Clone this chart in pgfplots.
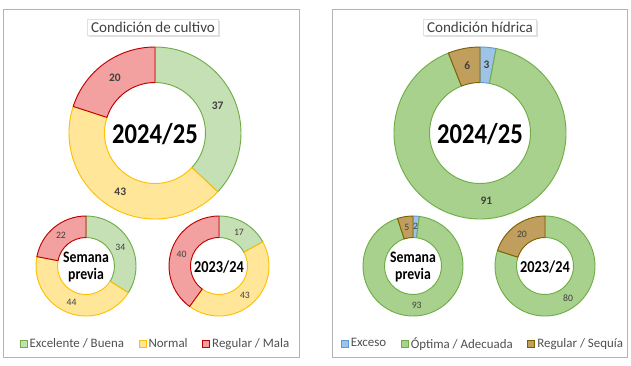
\documentclass[border=0pt]{standalone}
\usepackage{pgfplots}
\pgfplotsset{compat=1.18}
\usepackage{pgfplotstable}
\usepackage{fontspec}
\setmainfont{Carlito}
\newfontfamily\condfont[FakeStretch=0.86]{Carlito}
\usetikzlibrary{shadows}

\definecolor{gA}{HTML}{C5E0B4}\definecolor{gAd}{HTML}{70AD47}
\definecolor{yA}{HTML}{FFE699}\definecolor{yAd}{HTML}{FFC000}
\definecolor{rA}{HTML}{F2A0A0}\definecolor{rAd}{HTML}{C00000}
\definecolor{gB}{HTML}{A9D18E}\definecolor{gBd}{HTML}{70AD47}
\definecolor{bB}{HTML}{9DC3E6}\definecolor{bBd}{HTML}{5B9BD5}
\definecolor{nB}{HTML}{C09E5E}\definecolor{nBd}{HTML}{7F6000}
\definecolor{lab}{HTML}{404040}
\definecolor{leg}{HTML}{505050}
\definecolor{frame}{HTML}{B4B4B4}

% Condicion de cultivo
\pgfplotstableread{
v fc dc
37 gA gAd
43 yA yAd
20 rA rAd
}\cultCur
\pgfplotstableread{
v fc dc
34 gA gAd
44 yA yAd
22 rA rAd
}\cultPrev
\pgfplotstableread{
v fc dc
17 gA gAd
43 yA yAd
40 rA rAd
}\cultLast
% Condicion hidrica
\pgfplotstableread{
v fc dc
3 bB bBd
91 gB gBd
6 nB nBd
}\hidCur
\pgfplotstableread{
v fc dc
2 bB bBd
93 gB gBd
5 nB nBd
}\hidPrev
\pgfplotstableread{
v fc dc
0 bB bBd
80 gB gBd
20 nB nBd
}\hidLast

% #1 table, #2 cx, #3 cy, #4 outer r (px), #5 inner r (px), #6 label font
\newcommand\donut[6]{%
  \xdef\cum{0}%
  \pgfplotstablegetrowsof{#1}%
  \pgfmathtruncatemacro\nlast{\pgfplotsretval-1}%
  \pgfmathsetmacro\rOut{#4*0.75}%
  \pgfmathsetmacro\rIn{#5*0.75}%
  \pgfmathsetmacro\rMid{(#4+#5)/2*0.75}%
  \foreach \i in {0,...,\nlast}{%
    \pgfplotstablegetelem{\i}{v}\of{#1}\let\val\pgfplotsretval
    \pgfplotstablegetelem{\i}{fc}\of{#1}\let\fc\pgfplotsretval
    \pgfplotstablegetelem{\i}{dc}\of{#1}\let\dc\pgfplotsretval
    \pgfmathsetmacro\aone{90-3.6*\cum}%
    \pgfmathsetmacro\atwo{90-3.6*(\cum+\val)}%
    \ifdim\val pt>0pt
      \filldraw[fill=\fc,draw=\dc,line width=0.7pt,line join=round]
        ([shift={(\aone:\rOut pt)}]axis cs:#2,#3)
        arc[start angle=\aone,end angle=\atwo,radius=\rOut pt]
        -- ([shift={(\atwo:\rIn pt)}]axis cs:#2,#3)
        arc[start angle=\atwo,end angle=\aone,radius=\rIn pt] -- cycle;
    \fi
    \pgfmathsetmacro\newcum{\cum+\val}\xdef\cum{\newcum}%
  }%
  \xdef\cum{0}%
  \foreach \i in {0,...,\nlast}{%
    \pgfplotstablegetelem{\i}{v}\of{#1}\let\val\pgfplotsretval
    \pgfmathsetmacro\amid{90-3.6*(\cum+\val/2)}%
    \ifdim\val pt>0pt
      \node[font=#6,text=lab,inner sep=0pt] at ([shift={(\amid:\rMid pt)}]axis cs:#2,#3) {\val};
    \fi
    \pgfmathsetmacro\newcum{\cum+\val}\xdef\cum{\newcum}%
  }%
}

\pgfplotsset{
  panel/.style={
    scale only axis, width=315.5*0.75pt, height=365*0.75pt,
    ymin=0, ymax=365, y dir=reverse, hide axis, clip=false,
    legend columns=3,
    legend image code/.code={\draw[##1,line width=0.7pt] (0pt,-2.6pt) rectangle (5.2pt,2.6pt);},
    legend style={draw=none, fill=none, anchor=center,
      font=\fontsize{9.7}{11}\selectfont, text=leg,
      nodes={inner xsep=1.5pt, inner ysep=0pt},
      /tikz/every even column/.append style={column sep=9.5pt}},
  },
}

\begin{document}
\begin{tikzpicture}
\begin{axis}[panel, xmin=0, xmax=315.5, at={(0,0)}, anchor=south west,
  legend style={at={(0.493,0.058)}}]
  \addlegendimage{fill=gA,draw=gAd}\addlegendentry{Excelente / Buena}
  \addlegendimage{fill=yA,draw=yAd}\addlegendentry{Normal}
  \addlegendimage{fill=rA,draw=rAd}\addlegendentry{Regular / Mala}
  \pgfplotsextra{
    \fill[white] (axis cs:0,0) rectangle (axis cs:315.5,365);
    \draw[frame,line width=0.75pt] (axis cs:3,9) rectangle (axis cs:299,357);
    \node[draw=black!12,fill=white,drop shadow={opacity=0.25,shadow xshift=1.2pt,shadow yshift=-1.2pt},
      inner xsep=2.5pt,inner ysep=2pt,font=\fontsize{11.3}{13}\selectfont,text=lab] at (axis cs:153,27) {Condición de cultivo};
    \donut{\cultCur}{155}{133}{86}{50.5}{\bfseries\fontsize{8.6}{10}\selectfont}
    \donut{\cultPrev}{86}{266}{50}{28.5}{\fontsize{7.3}{9}\selectfont}
    \donut{\cultLast}{219}{266}{50}{28.5}{\fontsize{7.3}{9}\selectfont}
    \node[font=\condfont\bfseries\fontsize{21.5}{24}\selectfont] at (axis cs:155,134) {2024/25};
    \node[font=\condfont\bfseries\fontsize{12}{12.5}\selectfont,align=center] at (axis cs:86,267) {Semana\\previa};
    \node[font=\condfont\bfseries\fontsize{12.5}{13}\selectfont] at (axis cs:219,267) {2023/24};
  }
\end{axis}
\begin{axis}[panel, xmin=315.5, xmax=631, at={(315.5*0.75pt,0)}, anchor=south west,
  legend style={at={(0.531,0.058)}}]
  \addlegendimage{fill=bB,draw=bBd}\addlegendentry{Exceso}
  \addlegendimage{fill=gB,draw=gBd}\addlegendentry{Óptima / Adecuada}
  \addlegendimage{fill=nB,draw=nBd}\addlegendentry{Regular / Sequía}
  \pgfplotsextra{
    \fill[white] (axis cs:315.5,0) rectangle (axis cs:631,365);
    \draw[frame,line width=0.75pt] (axis cs:332,9) rectangle (axis cs:627,357);
    \node[draw=black!12,fill=white,drop shadow={opacity=0.25,shadow xshift=1.2pt,shadow yshift=-1.2pt},
      inner xsep=2.5pt,inner ysep=2pt,font=\fontsize{11.3}{13}\selectfont,text=lab] at (axis cs:480,27) {Condición hídrica};
    \donut{\hidCur}{480}{133}{86}{50.5}{\bfseries\fontsize{8.6}{10}\selectfont}
    \donut{\hidPrev}{413}{266}{50}{28.5}{\fontsize{7.3}{9}\selectfont}
    \donut{\hidLast}{545}{266}{50}{28.5}{\fontsize{7.3}{9}\selectfont}
    \node[font=\condfont\bfseries\fontsize{21.5}{24}\selectfont] at (axis cs:480,134) {2024/25};
    \node[font=\condfont\bfseries\fontsize{12}{12.5}\selectfont,align=center] at (axis cs:413,267) {Semana\\previa};
    \node[font=\condfont\bfseries\fontsize{12.5}{13}\selectfont] at (axis cs:545,267) {2023/24};
  }
\end{axis}
\end{tikzpicture}
\end{document}
